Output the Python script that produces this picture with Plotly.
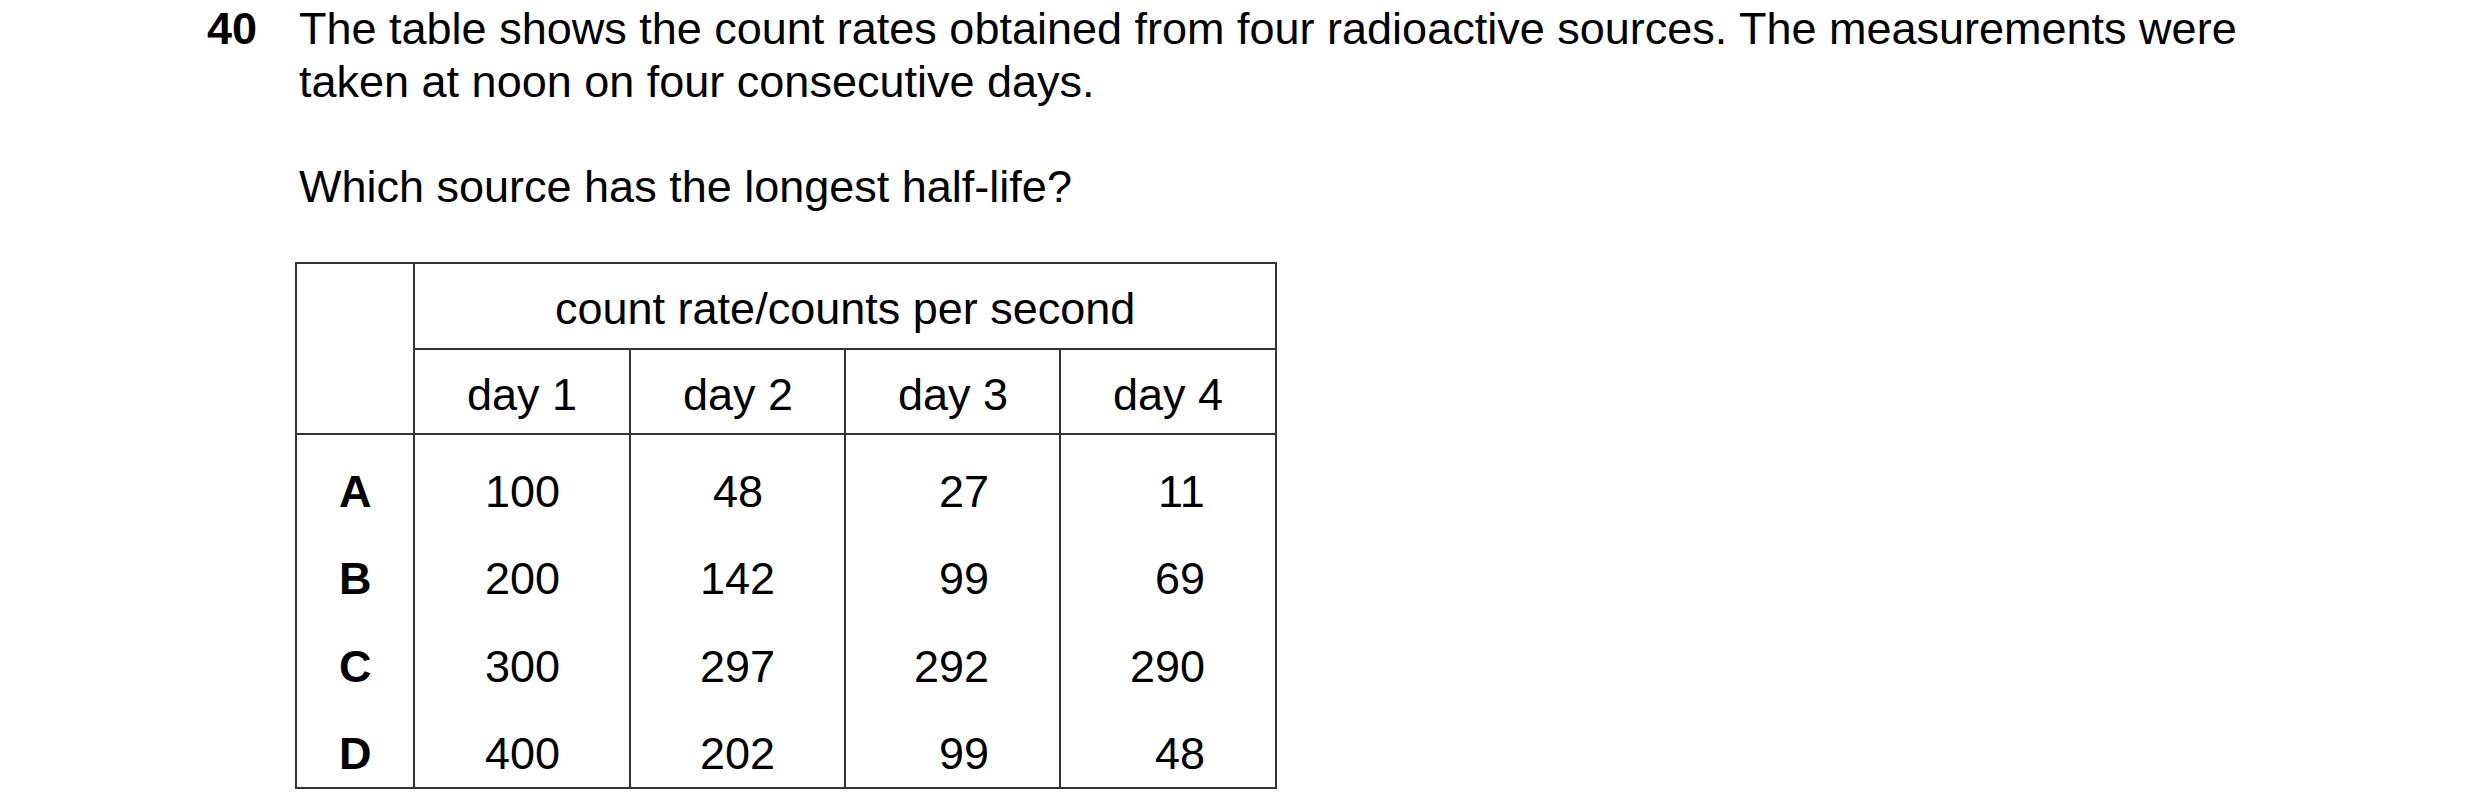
import plotly.graph_objects as go

question_no = "40"
lines = ["The table shows the count rates obtained from four radioactive sources. The measurements were",
         "taken at noon on four consecutive days."]
question = "Which source has the longest half-life?"
header = "count rate/counts per second"
days = ["day 1", "day 2", "day 3", "day 4"]
sources = ["A", "B", "C", "D"]
values = [[100, 48, 27, 11],
          [200, 142, 99, 69],
          [300, 297, 292, 290],
          [400, 202, 99, 48]]

W, H = 2480, 809
F = "Liberation Sans, Arial, sans-serif"
FS = 45
fig = go.Figure()
fig.add_trace(go.Scatter(x=[0, W], y=[0, H], mode="markers", marker=dict(opacity=0), hoverinfo="skip", showlegend=False))
ann = []
def t(x, y, s, xa="left", bold=False, size=FS):
    ann.append(dict(x=x, y=y, text=f"<b>{s}</b>" if bold else s, xref="x", yref="y", showarrow=False,
                    xanchor=xa, yanchor="middle", font=dict(family=F, size=size, color="black")))
t(206, 27, question_no, bold=True)
t(298, 27, lines[0])
t(298, 80, lines[1])
t(298, 185, question)

cols = [297, 415, 631, 846, 1061, 1277]
rows_y = [262, 348, 433, 787]
shapes = []
lw = 2
shapes.append(dict(type="rect", x0=cols[0], x1=cols[-1], y0=rows_y[0], y1=rows_y[-1], line=dict(color="#333", width=lw)))
shapes.append(dict(type="line", x0=cols[1], x1=cols[1], y0=rows_y[0], y1=rows_y[-1], line=dict(color="#333", width=lw)))
shapes.append(dict(type="line", x0=cols[1], x1=cols[-1], y0=rows_y[1], y1=rows_y[1], line=dict(color="#333", width=lw)))
shapes.append(dict(type="line", x0=cols[0], x1=cols[-1], y0=rows_y[2], y1=rows_y[2], line=dict(color="#333", width=lw)))
for c in cols[2:5]:
    shapes.append(dict(type="line", x0=c, x1=c, y0=rows_y[1], y1=rows_y[-1], line=dict(color="#333", width=lw)))

t(846, 307, header, xa="center")
for i, d in enumerate(days):
    t((cols[i+1] + cols[i+2]) / 2, 393, d, xa="center")
row_c = [490, 577, 665, 752]
for r, s in enumerate(sources):
    t(356, row_c[r], s, xa="center", bold=True)
    for c, v in enumerate(values[r]):
        if c < 2:
            t((cols[c+1] + cols[c+2]) / 2, row_c[r], str(v), xa="center")
        else:
            t([992, 1208][c-2], row_c[r], str(v), xa="right")

fig.update_layout(width=W, height=H, margin=dict(l=0, r=0, t=0, b=0), plot_bgcolor="white", paper_bgcolor="white",
                  xaxis=dict(range=[9, W + 9], visible=False), yaxis=dict(range=[H + 7, 7], visible=False),
                  annotations=ann, shapes=shapes)
fig.write_html("out.html")
